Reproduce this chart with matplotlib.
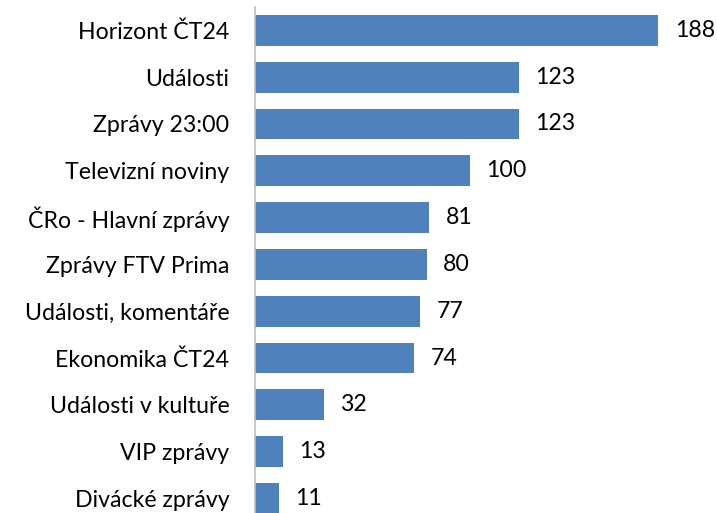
import matplotlib
matplotlib.use("Agg")
import matplotlib.pyplot as plt

categories = ["Horizont ČT24", "Události", "Zprávy 23:00", "Televizní noviny",
              "ČRo - Hlavní zprávy", "Zprávy FTV Prima", "Události, komentáře",
              "Ekonomika ČT24", "Události v kultuře", "VIP zprávy", "Divácké zprávy"]
values = [188, 123, 123, 100, 81, 80, 77, 74, 32, 13, 11]

plt.rcParams['font.family'] = ['Lato', 'DejaVu Sans']

fig = plt.figure(figsize=(7.17, 5.13), dpi=100)
ax = fig.add_axes([255/717, -0.0173, 1 - 255/717, 0.9864 + 0.0173])

pos = list(range(len(categories)))
bars = ax.barh(pos, values, height=0.66, color="#4F81BD")
ax.set_ylim(len(categories) - 0.5, -0.5)
ax.set_xlim(0, (717 - 255) / 2.145)

ax.set_yticks(pos)
ax.set_yticklabels(categories, fontsize=16.7)
ax.tick_params(axis='y', length=0, pad=18.5)
ax.set_xticks([])
for s in ['top', 'right', 'bottom']:
    ax.spines[s].set_visible(False)
ax.spines['left'].set_color("#BFBFBF")
ax.spines['left'].set_linewidth(1.2)

for p, v in zip(pos, values):
    ax.annotate(str(v), xy=(v, p), xytext=(12, 0), textcoords='offset points',
                va='center', ha='left', fontsize=16.7)

fig.savefig("out.png", dpi=100)
